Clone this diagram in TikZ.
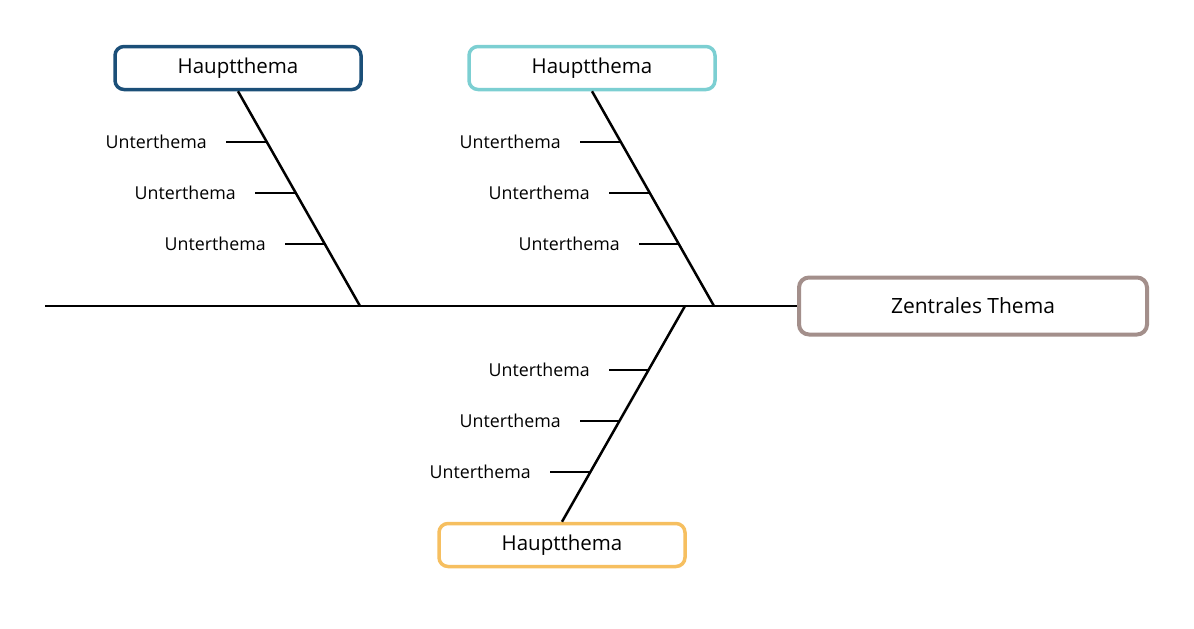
\documentclass[tikz,border=0pt]{standalone}
\usepackage{fontspec}
\setmainfont{Open Sans}
\usetikzlibrary{calc}
\definecolor{hblue}{HTML}{1B4F78}
\definecolor{hteal}{HTML}{7CCFD2}
\definecolor{horange}{HTML}{F6BF60}
\definecolor{hgray}{HTML}{A38F8B}
\tikzset{
  x=1pt, y=-1pt,
  hbox/.style={draw=#1, line width=3.5pt, rounded corners=9pt, fill=white,
    minimum width=246pt, minimum height=43pt, inner sep=0pt, font=\fontsize{20.5}{24}\selectfont},
  zbox/.style={draw=hgray, line width=4pt, rounded corners=10pt, fill=white,
    minimum width=348pt, minimum height=57pt, inner sep=0pt, font=\fontsize{21}{24}\selectfont},
  sub/.style={anchor=east, inner sep=0pt, font=\fontsize{17.8}{20}\selectfont},
  bone/.style={line width=2.5pt, black},
  tick/.style={line width=2.5pt, black},
}
\begin{document}
\begin{tikzpicture}
\useasboundingbox (0,0) rectangle (1194,629);
% spine
\coordinate (s0) at (45,306);
\node[zbox] (z) at (973,306) {Zentrales Thema};
\draw[bone] (s0) -- (z.west);
% main topics
\node[hbox=hblue] (h1) at (238,68) {Hauptthema};
\node[hbox=hteal] (h2) at (592,68) {Hauptthema};
\node[hbox=horange] (h3) at (562,545) {Hauptthema};
\coordinate (j1) at (360,306);
\coordinate (j2) at (714,306);
\coordinate (j3) at (685,306);
\draw[bone] (h1.south) -- (j1);
\draw[bone] (h2.south) -- (j2);
\draw[bone] (h3.north) -- (j3);
% branch 1 subtopics
\coordinate (a1) at (266,142);
\coordinate (a2) at (295,193);
\coordinate (a3) at (324,244);
\node[sub] (u1) at (207,142) {Unterthema};
\node[sub] (u2) at (236,193) {Unterthema};
\node[sub] (u3) at (266,244) {Unterthema};
\draw[tick] ([xshift=19pt]u1.east) -- (a1);
\draw[tick] ([xshift=19pt]u2.east) -- (a2);
\draw[tick] ([xshift=19pt]u3.east) -- (a3);
% branch 2 subtopics
\coordinate (b1) at (620,142);
\coordinate (b2) at (649,193);
\coordinate (b3) at (678,244);
\node[sub] (v1) at (561,142) {Unterthema};
\node[sub] (v2) at (590,193) {Unterthema};
\node[sub] (v3) at (620,244) {Unterthema};
\draw[tick] ([xshift=19pt]v1.east) -- (b1);
\draw[tick] ([xshift=19pt]v2.east) -- (b2);
\draw[tick] ([xshift=19pt]v3.east) -- (b3);
% branch 3 subtopics
\coordinate (c1) at (648,370);
\coordinate (c2) at (619,421);
\coordinate (c3) at (589.5,472);
\node[sub] (w1) at (590,370) {Unterthema};
\node[sub] (w2) at (561,421) {Unterthema};
\node[sub] (w3) at (531,472) {Unterthema};
\draw[tick] ([xshift=19pt]w1.east) -- (c1);
\draw[tick] ([xshift=19pt]w2.east) -- (c2);
\draw[tick] ([xshift=19pt]w3.east) -- (c3);
\end{tikzpicture}
\end{document}
